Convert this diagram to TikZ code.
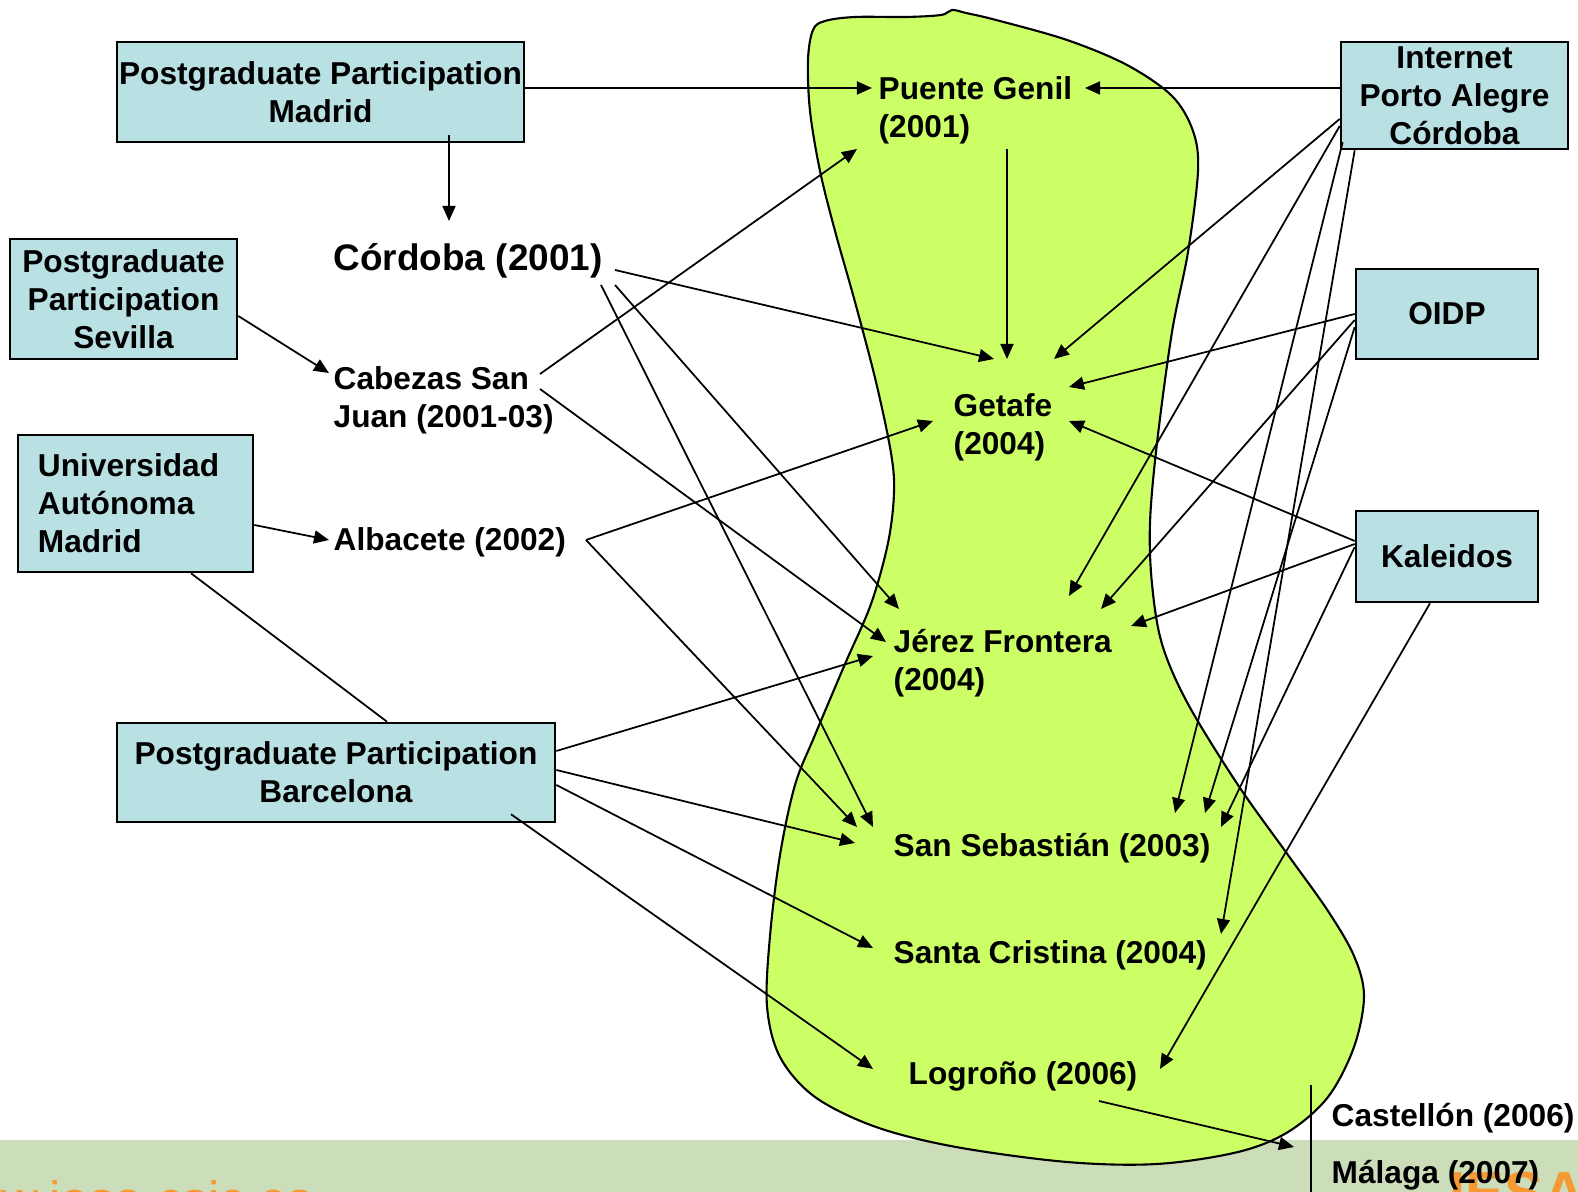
\documentclass[tikz,border=0pt]{standalone}
\usepackage{fontspec}
\setmainfont{Liberation Sans}
\usetikzlibrary{arrows.meta}
\definecolor{boxblue}{RGB}{185,224,227}
\definecolor{blobgreen}{RGB}{204,255,102}
\definecolor{bandgreen}{RGB}{204,221,186}
\definecolor{weborange}{RGB}{247,153,51}
\tikzset{
  box/.style={draw=black, line width=0.7pt, fill=boxblue, align=center, inner sep=0pt,
    font=\bfseries\fontsize{9}{10.8}\selectfont},
  place/.style={anchor=west, align=left, inner sep=0pt,
    font=\bfseries\fontsize{9}{10.8}\selectfont},
  arr/.style={-{Triangle[length=0.15cm,width=0.13cm]}, line width=0.5pt},
  link/.style={line width=0.5pt}
}
\begin{document}
\begin{tikzpicture}[x=0.01cm,y=-0.01cm]
\useasboundingbox (0,0) rectangle (1578,1192);
\clip (0,0) rectangle (1578,1192);
\fill[bandgreen] (0,1140) rectangle (1578,1192);
\node[anchor=base west, inner sep=0pt, text=weborange, font=\fontsize{14.5}{17}\selectfont] (web) at (-73,1218) {www.iesa.csic.es};
\node[anchor=base west, inner sep=0pt, text=weborange, font=\bfseries\fontsize{16.5}{20}\selectfont] (iesa) at (1449,1213) {IESA};
\draw[fill=blobgreen, line width=0.6pt] plot[smooth cycle, tension=0.55] coordinates {
  (813,30) (808,60) (810,111) (820,171) (835,231) (855,302) (876,382) (891,453)
  (894,493) (888,543) (871,604) (845,664) (815,735) (795,785) (780,855) (770,936)
  (767,1006) (780,1057) (815,1097) (876,1127) (956,1147) (1067,1162) (1157,1164)
  (1238,1152) (1288,1132) (1328,1097) (1354,1047) (1364,996) (1354,956) (1328,911)
  (1288,855) (1238,785) (1188,704) (1162,644) (1152,584) (1150,523) (1157,443)
  (1172,332) (1188,252) (1198,171) (1193,131) (1172,96) (1127,65) (1067,40)
  (996,20) (966,13) (952,10) (941,15) (906,17) (855,17) (825,21)};

\node[box, minimum width=4.07cm, minimum height=1cm] (ppmad) at (320.5,92) {Postgraduate Participation\\Madrid};
\node[box, minimum width=2.27cm, minimum height=1.2cm] (ppsev) at (123.5,299) {Postgraduate\\Participation\\Sevilla};
\node[box, text width=1.95cm, align=left, inner xsep=0.2cm, minimum height=1.37cm] (uam) at (135.5,503.5) {Universidad\\Autónoma\\Madrid};
\node[box, minimum width=4.38cm, minimum height=0.99cm] (ppbar) at (336,772.5) {Postgraduate Participation\\Barcelona};
\node[box, minimum width=2.27cm, minimum height=1.07cm] (inet) at (1454.5,95.5) {Internet\\Porto Alegre\\Córdoba};
\node[box, minimum width=1.82cm, minimum height=0.9cm] (oidp) at (1447,314) {OIDP};
\node[box, minimum width=1.82cm, minimum height=0.91cm] (kal) at (1447,556.5) {Kaleidos};

\node[place, font=\bfseries\fontsize{10.5}{12.6}\selectfont] (cord) at (333,261) {Córdoba (2001)};
\node[place] (cabezas) at (333,400) {Cabezas San\\Juan (2001-03)};
\node[place] (albacete) at (333,542) {Albacete (2002)};
\node[place] (puente) at (878,110) {Puente Genil\\(2001)};
\node[place] (getafe) at (953,427) {Getafe\\(2004)};
\node[place] (jerez) at (893,663) {Jérez Frontera\\(2004)};
\node[place] (sanseb) at (893,848) {San Sebastián (2003)};
\node[place] (santacr) at (893,955) {Santa Cristina (2004)};
\node[place] (logrono) at (908,1076) {Logroño (2006)};
\node[place] (castellon) at (1331,1118) {Castellón (2006)};
\node[place] (malaga) at (1331,1175) {Málaga (2007)};

\draw[arr] ([shift={(0,-4)}]ppmad.east) -- ([shift={(-6,-22)}]puente.west);
\draw[arr] ([shift={(128.5,-8)}]ppmad.south) -- ([shift={(116,-40)}]cord.west);
\draw[arr] ([shift={(0,-7.5)}]inet.west) -- ([shift={(207,-22)}]puente.west);
\draw[arr] ([shift={(129,39)}]puente.west) -- ([shift={(54,-68)}]getafe.west);
\draw[arr] ([shift={(282,9)}]cord.west) -- ([shift={(41,-68)}]getafe.west);
\draw[arr] ([shift={(268,24)}]cord.west) -- ([shift={(-20,-21)}]sanseb.west);
\draw[arr] ([shift={(282,24)}]cord.west) -- ([shift={(6,-54)}]jerez.west);
\draw[arr] ([shift={(207,-26)}]cabezas.west) -- ([shift={(-21,39)}]puente.west);
\draw[arr] ([shift={(207,-11)}]cabezas.west) -- ([shift={(-7,-21)}]jerez.west);
\draw[arr] ([shift={(0,17)}]ppsev.east) -- ([shift={(-4,-27)}]cabezas.west);
\draw[arr] ([shift={(0,21.5)}]uam.east) -- ([shift={(-4,-2)}]albacete.west);
\draw[link] ([shift={(55.5,0)}]uam.south) -- ([shift={(51,0)}]ppbar.north);
\draw[arr] ([shift={(253,-2)}]albacete.west) -- ([shift={(-20,-6)}]getafe.west);
\draw[arr] ([shift={(253,-2)}]albacete.west) -- ([shift={(-36,-21)}]sanseb.west);
\draw[arr] ([shift={(0,-21.5)}]ppbar.east) -- ([shift={(-20,-7)}]jerez.west);
\draw[arr] ([shift={(0,-2.5)}]ppbar.east) -- ([shift={(-38,-5)}]sanseb.west);
\draw[arr] ([shift={(0,12.5)}]ppbar.east) -- ([shift={(-20,-7)}]santacr.west);
\draw[arr] ([shift={(175,-9)}]ppbar.south) -- ([shift={(-35,-7)}]logrono.west);
\draw[arr] ([shift={(0,23.5)}]inet.west) -- ([shift={(101,-68)}]getafe.west);
\draw[arr] ([shift={(0,30.5)}]inet.west) -- ([shift={(176,-67)}]jerez.west);
\draw[arr] ([shift={(3,-8)}]inet.south west) -- ([shift={(282,-35)}]sanseb.west);
\draw[arr] ([shift={(15,0)}]inet.south west) -- ([shift={(328,-21)}]santacr.west);
\draw[arr] (oidp.west) -- ([shift={(116,-40)}]getafe.west);
\draw[arr] ([shift={(0,6)}]oidp.west) -- ([shift={(208,-54)}]jerez.west);
\draw[arr] ([shift={(0,13)}]oidp.west) -- ([shift={(312,-35)}]sanseb.west);
\draw[arr] ([shift={(0,-15.5)}]kal.west) -- ([shift={(116,-6)}]getafe.west);
\draw[arr] ([shift={(0,-12.5)}]kal.west) -- ([shift={(238,-37)}]jerez.west);
\draw[arr] ([shift={(0,-9.5)}]kal.west) -- ([shift={(328,-21)}]sanseb.west);
\draw[arr] ([shift={(-17,0)}]kal.south) -- ([shift={(252,-7)}]logrono.west);
\draw[arr] ([shift={(191,25)}]logrono.west) -- ([shift={(-37,29)}]castellon.west);
\draw[link] ([shift={(-20,-33)}]castellon.west) -- ([shift={(-20,17)}]malaga.west);
\end{tikzpicture}
\end{document}
